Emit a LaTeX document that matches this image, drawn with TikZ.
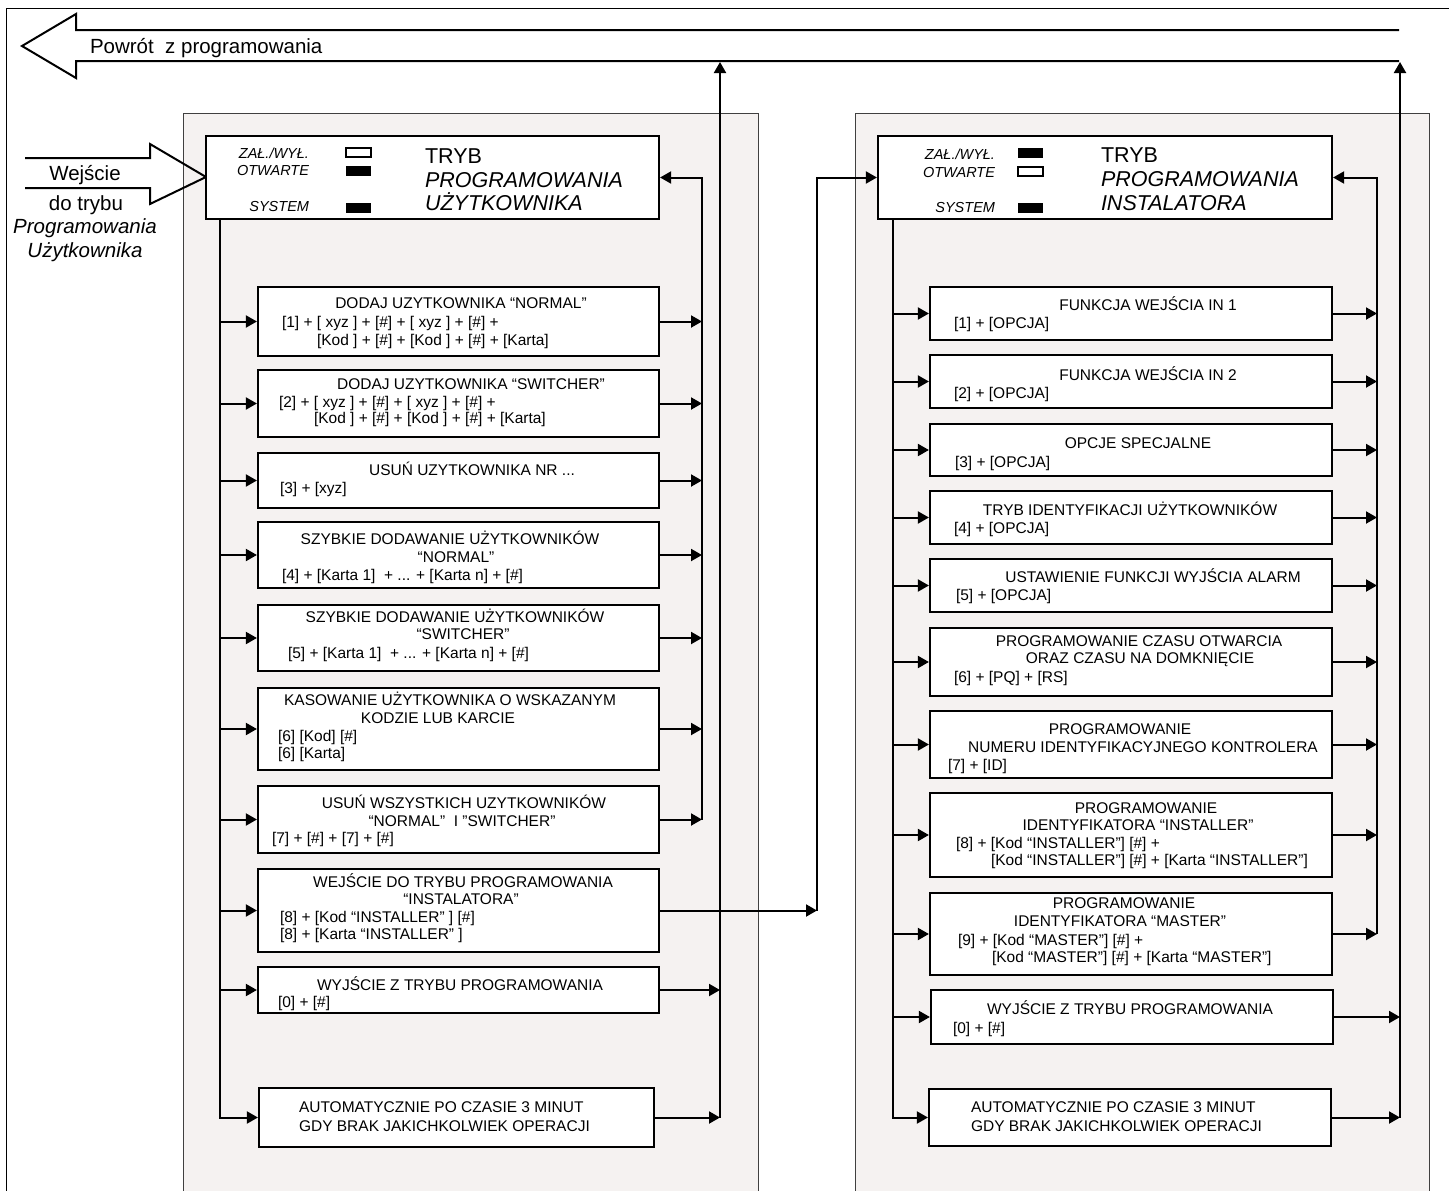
\documentclass[tikz,border=0pt]{standalone}
\usepackage{fontspec}
\setmainfont{Liberation Sans}
\usetikzlibrary{arrows.meta}
\definecolor{panelgrey}{RGB}{245,242,241}

\begin{document}
\begin{tikzpicture}[x=1pt,y=-1pt,>={Triangle[length=11pt,width=12pt]},line width=2pt]
  \tikzstyle{panel}=[fill=panelgrey,draw=black!75,line width=0.9pt]
  \tikzstyle{item}=[draw,fill=white,line width=2.2pt,inner sep=0pt]
  \tikzstyle{txt}=[inner sep=0pt,text height=11pt,text depth=0pt,font=\fontsize{15.5}{18}\selectfont]
  \tikzstyle{code}=[txt,anchor=west]
  \tikzstyle{lamp}=[inner sep=0pt,text height=10.4pt,text depth=0pt,anchor=east,font=\fontsize{14.5}{16}\selectfont\itshape]
  \tikzstyle{mode}=[inner sep=0pt,text height=15.4pt,text depth=0pt,anchor=west,font=\fontsize{21.5}{24}\selectfont]
  \tikzstyle{big}=[inner sep=0pt,text height=14.7pt,text depth=0pt,font=\fontsize{20.5}{24}\selectfont]

  \useasboundingbox (0,0) rectangle (1449,1191);

  % frame and panels
  \draw[line width=1pt] (1449,8) -- (6,8) -- (6,1191);
  \filldraw[panel] (183,113) rectangle (758,1200);
  \filldraw[panel] (855,113) rectangle (1429,1200);

  % hollow arrows
  \draw[line width=2pt] (1399,30) -- (76,30) -- (76,14) -- (22,46) -- (76,78) -- (76,61) -- (1399,61);
  \node[big,anchor=west] (back) at (89,46) {Powrót\ \ z programowania};
  \draw[line width=2pt] (25,158) -- (150,158) -- (150,144) -- (206,177) -- (150,204) -- (150,188) -- (25,188);
  \node[big] (in1) at (85,173) {Wejście};
  \node[big] (in2) at (86,203) {do trybu};
  \node[big,font=\fontsize{20.5}{24}\selectfont\itshape] (in3) at (85,226) {Programowania};
  \node[big,font=\fontsize{20.5}{24}\selectfont\itshape] (in4) at (85,250) {Użytkownika};

  \coordinate (shaft) at (0,62);
  \coordinate (ubl) at (220,0);
  \coordinate (ubr) at (702,0);
  \coordinate (uret) at (720,0);
  \coordinate (jump) at (817,0);
  \coordinate (ibl) at (893,0);
  \coordinate (ibr) at (1377,0);
  \coordinate (iret) at (1400,0);

  % user mode
  \node[item,minimum width=453pt,minimum height=83pt] (uhead) at (432.5,177.5) {};
  \node[lamp] (ul1) at (310,153) {ZAŁ./WYŁ.};
  \node[lamp] (ul2) at (310,170) {OTWARTE};
  \node[lamp] (ul3) at (310,206) {SYSTEM};
  \draw[line width=1.2pt] (346,148) rectangle (371,157);
  \fill (346,166) rectangle (371,176);
  \fill (346,203) rectangle (371,213);
  \node[mode] (um1) at (424,156) {TRYB};
  \node[mode,font=\fontsize{21.5}{24}\selectfont\itshape] (um2) at (424,180) {PROGRAMOWANIA};
  \node[mode,font=\fontsize{21.5}{24}\selectfont\itshape] (um3) at (424,203) {UŻYTKOWNIKA};

  \node[item,minimum width=401pt,minimum height=69pt] (u1) at (458.5,321.5) {};
  \node[txt] (u1a) at (461,303) {DODAJ UZYTKOWNIKA “NORMAL”};
  \node[code] (u1b) at (281,322) {[1] + [ xyz ] + [\#] + [ xyz ] + [\#] +};
  \node[code] (u1c) at (316,340) {[Kod ] + [\#] + [Kod ] + [\#] + [Karta]};

  \node[item,minimum width=401pt,minimum height=67pt] (u2) at (458.5,403.5) {};
  \node[txt] (u2a) at (471,384) {DODAJ UZYTKOWNIKA “SWITCHER”};
  \node[code] (u2b) at (278,402) {[2] + [ xyz ] + [\#] + [ xyz ] + [\#] +};
  \node[code] (u2c) at (313,418) {[Kod ] + [\#] + [Kod ] + [\#] + [Karta]};

  \node[item,minimum width=401pt,minimum height=55pt] (u3) at (458.5,480.5) {};
  \node[txt] (u3a) at (472,470) {USUŃ UZYTKOWNIKA NR ...};
  \node[code] (u3b) at (279,488) {[3] + [xyz]};

  \node[item,minimum width=401pt,minimum height=66pt] (u4) at (458.5,555) {};
  \node[txt] (u4a) at (450,539) {SZYBKIE DODAWANIE UŻYTKOWNIKÓW};
  \node[txt] (u4b) at (456,557) {“NORMAL”};
  \node[code] (u4c) at (281,575) {[4] + [Karta 1]\ \ + ... + [Karta n] + [\#]};

  \node[item,minimum width=401pt,minimum height=66pt] (u5) at (458.5,638) {};
  \node[txt] (u5a) at (455,617) {SZYBKIE DODAWANIE UŻYTKOWNIKÓW};
  \node[txt] (u5b) at (463,634) {“SWITCHER”};
  \node[code] (u5c) at (287,653) {[5] + [Karta 1]\ \ + ... + [Karta n] + [\#]};

  \node[item,minimum width=401pt,minimum height=82pt] (u6) at (458.5,729) {};
  \node[txt] (u6a) at (450,700) {KASOWANIE UŻYTKOWNIKA O WSKAZANYM};
  \node[txt] (u6b) at (438,718) {KODZIE LUB KARCIE};
  \node[code] (u6c) at (277,736) {[6] [Kod] [\#]};
  \node[code] (u6d) at (277,753) {[6] [Karta]};

  \node[item,minimum width=401pt,minimum height=67pt] (u7) at (458.5,819.5) {};
  \node[txt] (u7a) at (464,803) {USUŃ WSZYSTKICH UZYTKOWNIKÓW};
  \node[txt] (u7b) at (462,821) {“NORMAL”\ \ I ”SWITCHER”};
  \node[code] (u7c) at (271,838) {[7] + [\#] + [7] + [\#]};

  \node[item,minimum width=401pt,minimum height=83pt] (u8) at (458.5,910.5) {};
  \node[txt] (u8a) at (463,882) {WEJŚCIE DO TRYBU PROGRAMOWANIA};
  \node[txt] (u8b) at (461,899) {“INSTALATORA”};
  \node[code] (u8c) at (279,917) {[8] + [Kod “INSTALLER” ] [\#]};
  \node[code] (u8d) at (279,934) {[8] + [Karta “INSTALLER” ]};

  \node[item,minimum width=401pt,minimum height=46pt] (u9) at (458.5,990) {};
  \node[txt] (u9a) at (460,985) {WYJŚCIE Z TRYBU PROGRAMOWANIA};
  \node[code] (u9b) at (277,1002) {[0] + [\#]};

  \node[item,minimum width=395pt,minimum height=59pt] (u10) at (456.5,1117.5) {};
  \node[code] (u10a) at (298,1107) {AUTOMATYCZNIE PO CZASIE 3 MINUT};
  \node[code] (u10b) at (298,1126) {GDY BRAK JAKICHKOLWIEK OPERACJI};

  % installer mode
  \node[item,minimum width=454pt,minimum height=83pt] (ihead) at (1105,177.5) {};
  \node[lamp] (il1) at (996,154) {ZAŁ./WYŁ.};
  \node[lamp] (il2) at (996,172) {OTWARTE};
  \node[lamp] (il3) at (996,207) {SYSTEM};
  \fill (1018,148) rectangle (1043,158);
  \draw[line width=1.2pt] (1018,167) rectangle (1043,176);
  \fill (1018,203) rectangle (1043,213);
  \node[mode] (im1) at (1100,155) {TRYB};
  \node[mode,font=\fontsize{21.5}{24}\selectfont\itshape] (im2) at (1100,179) {PROGRAMOWANIA};
  \node[mode,font=\fontsize{21.5}{24}\selectfont\itshape] (im3) at (1100,203) {INSTALATORA};

  \node[item,minimum width=402pt,minimum height=53pt] (i1) at (1131,313.5) {};
  \node[txt] (i1a) at (1148,305) {FUNKCJA WEJŚCIA IN 1};
  \node[code] (i1b) at (953,323) {[1] + [OPCJA]};

  \node[item,minimum width=402pt,minimum height=53pt] (i2) at (1131,381.5) {};
  \node[txt] (i2a) at (1148,375) {FUNKCJA WEJŚCIA IN 2};
  \node[code] (i2b) at (953,393) {[2] + [OPCJA]};

  \node[item,minimum width=402pt,minimum height=52pt] (i3) at (1131,450) {};
  \node[txt] (i3a) at (1138,443) {OPCJE SPECJALNE};
  \node[code] (i3b) at (954,462) {[3] + [OPCJA]};

  \node[item,minimum width=402pt,minimum height=53pt] (i4) at (1131,517.5) {};
  \node[txt] (i4a) at (1130,510) {TRYB IDENTYFIKACJI UŻYTKOWNIKÓW};
  \node[code] (i4b) at (953,528) {[4] + [OPCJA]};

  \node[item,minimum width=402pt,minimum height=53pt] (i5) at (1131,585.5) {};
  \node[txt] (i5a) at (1153,577) {USTAWIENIE FUNKCJI WYJŚCIA ALARM};
  \node[code] (i5b) at (955,595) {[5] + [OPCJA]};

  \node[item,minimum width=402pt,minimum height=68pt] (i6) at (1131,662) {};
  \node[txt] (i6a) at (1139,641) {PROGRAMOWANIE CZASU OTWARCIA};
  \node[txt] (i6b) at (1140,658) {ORAZ CZASU NA DOMKNIĘCIE};
  \node[code] (i6c) at (953,677) {[6] + [PQ] + [RS]};

  \node[item,minimum width=402pt,minimum height=67pt] (i7) at (1131,744.5) {};
  \node[txt] (i7a) at (1120,729) {PROGRAMOWANIE};
  \node[txt] (i7b) at (1143,747) {NUMERU IDENTYFIKACYJNEGO KONTROLERA};
  \node[code] (i7c) at (947,765) {[7] + [ID]};

  \node[item,minimum width=402pt,minimum height=84pt] (i8) at (1131,835) {};
  \node[txt] (i8a) at (1146,808) {PROGRAMOWANIE};
  \node[txt] (i8b) at (1138,825) {IDENTYFIKATORA “INSTALLER”};
  \node[code] (i8c) at (955,843) {[8] + [Kod “INSTALLER”] [\#] +};
  \node[code] (i8d) at (990,860) {[Kod “INSTALLER”] [\#] + [Karta “INSTALLER”]};

  \node[item,minimum width=402pt,minimum height=82pt] (i9) at (1131,934) {};
  \node[txt] (i9a) at (1124,903) {PROGRAMOWANIE};
  \node[txt] (i9b) at (1120,921) {IDENTYFIKATORA “MASTER”};
  \node[code] (i9c) at (957,940) {[9] + [Kod “MASTER”] [\#] +};
  \node[code] (i9d) at (991,957) {[Kod “MASTER”] [\#] + [Karta “MASTER”]};

  \node[item,minimum width=402pt,minimum height=54pt] (i10) at (1132,1017) {};
  \node[txt] (i10a) at (1130,1009) {WYJŚCIE Z TRYBU PROGRAMOWANIA};
  \node[code] (i10b) at (952,1028) {[0] + [\#]};

  \node[item,minimum width=402pt,minimum height=57pt] (i11) at (1130,1117.5) {};
  \node[code] (i11a) at (970,1107) {AUTOMATYCZNIE PO CZASIE 3 MINUT};
  \node[code] (i11b) at (970,1126) {GDY BRAK JAKICHKOLWIEK OPERACJI};

  % connectors, user mode
  \draw[->] (ubl |- uhead.south) |- (u10);
  \foreach \n in {1,...,9}
    \draw[->] (u\n -| ubl) -- (u\n);
  \foreach \n in {1,...,7}
    \draw[->] (u\n) -- (u\n -| ubr);
  \draw[->] (u7 -| ubr) |- (uhead);
  \draw[->] (u8) -- (u8 -| jump);
  \draw[->] (u8 -| jump) |- (ihead);
  \draw[->] (u9) -- (u9 -| uret);
  \draw[->] (u10) -- (u10 -| uret);
  \draw[->] (u10 -| uret) -- (uret |- shaft);

  % connectors, installer mode
  \draw[->] (ibl |- ihead.south) |- (i11);
  \foreach \n in {1,...,10}
    \draw[->] (i\n -| ibl) -- (i\n);
  \foreach \n in {1,...,9}
    \draw[->] (i\n) -- (i\n -| ibr);
  \draw[->] (i9 -| ibr) |- (ihead);
  \draw[->] (i10) -- (i10 -| iret);
  \draw[->] (i11) -- (i11 -| iret);
  \draw[->] (i11 -| iret) -- (iret |- shaft);
\end{tikzpicture}
\end{document}
